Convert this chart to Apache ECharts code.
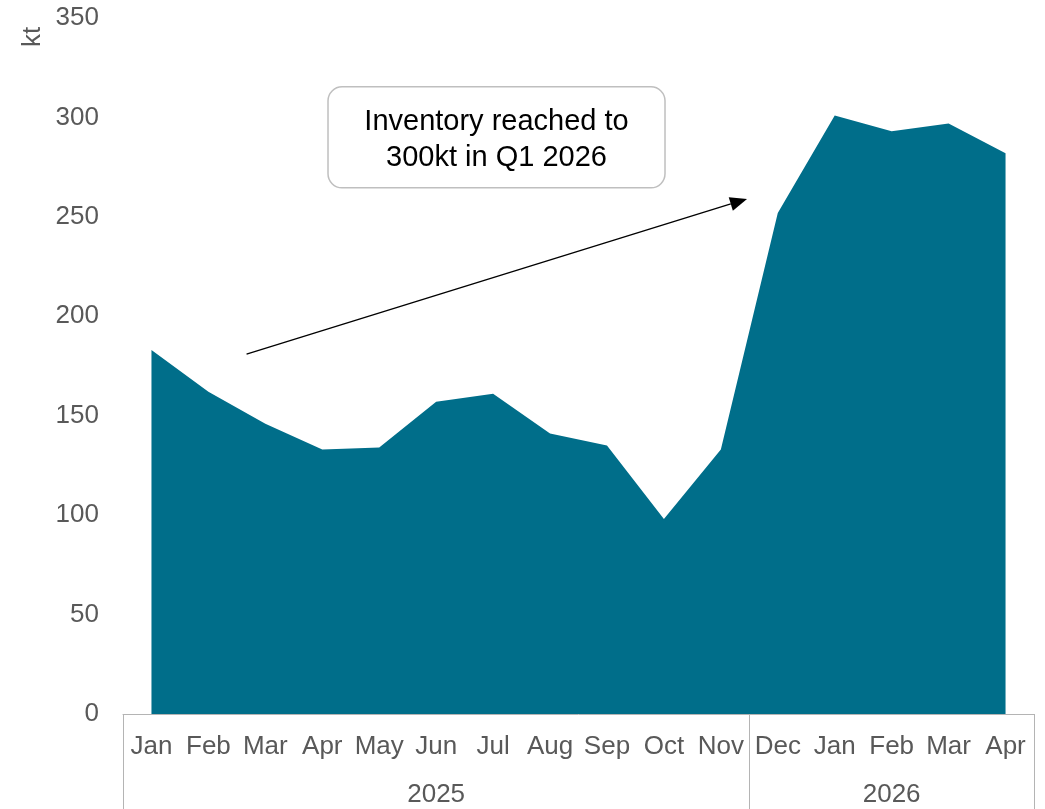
<!DOCTYPE html>
<html>
<head>
<meta charset="utf-8">
<script src="https://cdn.jsdelivr.net/npm/echarts@6/dist/echarts.min.js"></script>
<style>
  html, body { margin: 0; padding: 0; background: #ffffff; }
  #chart { width: 1045px; height: 809px; }
</style>
</head>
<body>
<div id="chart"></div>
<script>
// Monthly inventory, kt
const months = ['Jan', 'Feb', 'Mar', 'Apr', 'May', 'Jun', 'Jul', 'Aug', 'Sep', 'Oct', 'Nov',
                'Dec', 'Jan', 'Feb', 'Mar', 'Apr'];
const inventory = [183, 162, 146, 133, 134, 157, 161, 141, 135, 98, 133,
                   252, 301, 293, 297, 282];

// Year grouping under the month labels (positions in category-index units)
const yearLabels = ['2025', '2026'];
const yearCenters = [5, 13];
const yearBreaks = [-0.5, 10.5, 15.5];

// Value axis
const yMin = 0;
const yMax = 350;
const yStep = 50;
const yUnit = 'kt';

// Callout: text, box centre and arrow end points in (category index, kt)
const noteText = 'Inventory reached to\n300kt in Q1 2026';
const noteCenter = [6.06, 290];
const arrowFrom = [1.67, 181];
const arrowTo = [10.46, 259];

const FONT = '"Liberation Sans", Arial, Helvetica, sans-serif';
const AXIS_TEXT = '#595959';
const AXIS_LINE = '#b4b4b4';
const FILL = '#006e8a';

const chart = echarts.init(document.getElementById('chart'), null, { renderer: 'canvas' });

chart.setOption({
  animation: false,
  backgroundColor: '#ffffff',
  grid: { left: 123, right: 11, top: 18, bottom: 95, containLabel: false },
  xAxis: [
    {
      type: 'category',
      data: months,
      boundaryGap: true,
      position: 'bottom',
      axisLine: { show: true, lineStyle: { color: AXIS_LINE, width: 1 } },
      axisTick: { show: false },
      axisLabel: {
        interval: 0, margin: 20, color: AXIS_TEXT,
        fontFamily: FONT, fontSize: 26
      },
      splitLine: { show: false }
    },
    {
      type: 'value',
      min: -0.5,
      max: 15.5,
      position: 'bottom',
      axisLine: { show: false },
      axisTick: {
        show: true, inside: false, length: 110,
        customValues: yearBreaks,
        lineStyle: { color: AXIS_LINE, width: 1 }
      },
      axisLabel: {
        show: true, margin: 68, color: AXIS_TEXT,
        fontFamily: FONT, fontSize: 26,
        customValues: yearCenters,
        formatter: function (v) {
          const i = yearCenters.indexOf(v);
          return i >= 0 ? yearLabels[i] : '';
        }
      },
      splitLine: { show: false }
    }
  ],
  yAxis: {
    type: 'value',
    min: yMin,
    max: yMax,
    interval: yStep,
    axisLine: { show: false },
    axisTick: { show: false },
    splitLine: { show: false },
    axisLabel: { margin: 24, color: AXIS_TEXT, fontFamily: FONT, fontSize: 26 }
  },
  series: [{
    type: 'line',
    data: inventory,
    xAxisIndex: 0,
    symbol: 'none',
    lineStyle: { width: 0, opacity: 0 },
    areaStyle: { color: FILL, opacity: 1 },
    z: 2
  }]
});

// Map a (category index, value) pair to pixels, allowing fractional indices
function toPixel(pt) {
  const a = chart.convertToPixel({ xAxisIndex: 0, yAxisIndex: 0 }, [0, pt[1]]);
  const b = chart.convertToPixel({ xAxisIndex: 0, yAxisIndex: 0 }, [months.length - 1, pt[1]]);
  const t = pt[0] / (months.length - 1);
  return [a[0] + (b[0] - a[0]) * t, a[1]];
}

const c = toPixel(noteCenter);
const p0 = toPixel(arrowFrom);
const p1 = toPixel(arrowTo);
const boxW = 337, boxH = 101;

// Arrow head geometry
const dx = p1[0] - p0[0], dy = p1[1] - p0[1];
const len = Math.sqrt(dx * dx + dy * dy);
const ux = dx / len, uy = dy / len;
const headLen = 17, headHalf = 7;
const base = [p1[0] - ux * headLen, p1[1] - uy * headLen];
const head = [
  [p1[0], p1[1]],
  [base[0] - uy * headHalf, base[1] + ux * headHalf],
  [base[0] + uy * headHalf, base[1] - ux * headHalf]
];

chart.setOption({
  graphic: [
    {
      type: 'text',
      x: 33, y: 37,
      rotation: Math.PI / 2,
      style: {
        text: yUnit, fill: AXIS_TEXT, font: '26px ' + FONT,
        align: 'center', verticalAlign: 'middle'
      },
      z: 10
    },
    {
      type: 'rect',
      shape: { x: c[0] - boxW / 2, y: c[1] - boxH / 2, width: boxW, height: boxH, r: 14 },
      style: { fill: '#ffffff', stroke: '#bfbfbf', lineWidth: 1.5 },
      z: 10
    },
    {
      type: 'text',
      x: c[0], y: c[1] + 3,
      style: {
        text: noteText, fill: '#000000', font: '29px ' + FONT,
        align: 'center', verticalAlign: 'middle', lineHeight: 36
      },
      z: 11
    },
    {
      type: 'line',
      shape: { x1: p0[0], y1: p0[1], x2: base[0], y2: base[1] },
      style: { stroke: '#000000', lineWidth: 1.3 },
      z: 10
    },
    {
      type: 'polygon',
      shape: { points: head },
      style: { fill: '#000000' },
      z: 10
    }
  ]
});
</script>
</body>
</html>
